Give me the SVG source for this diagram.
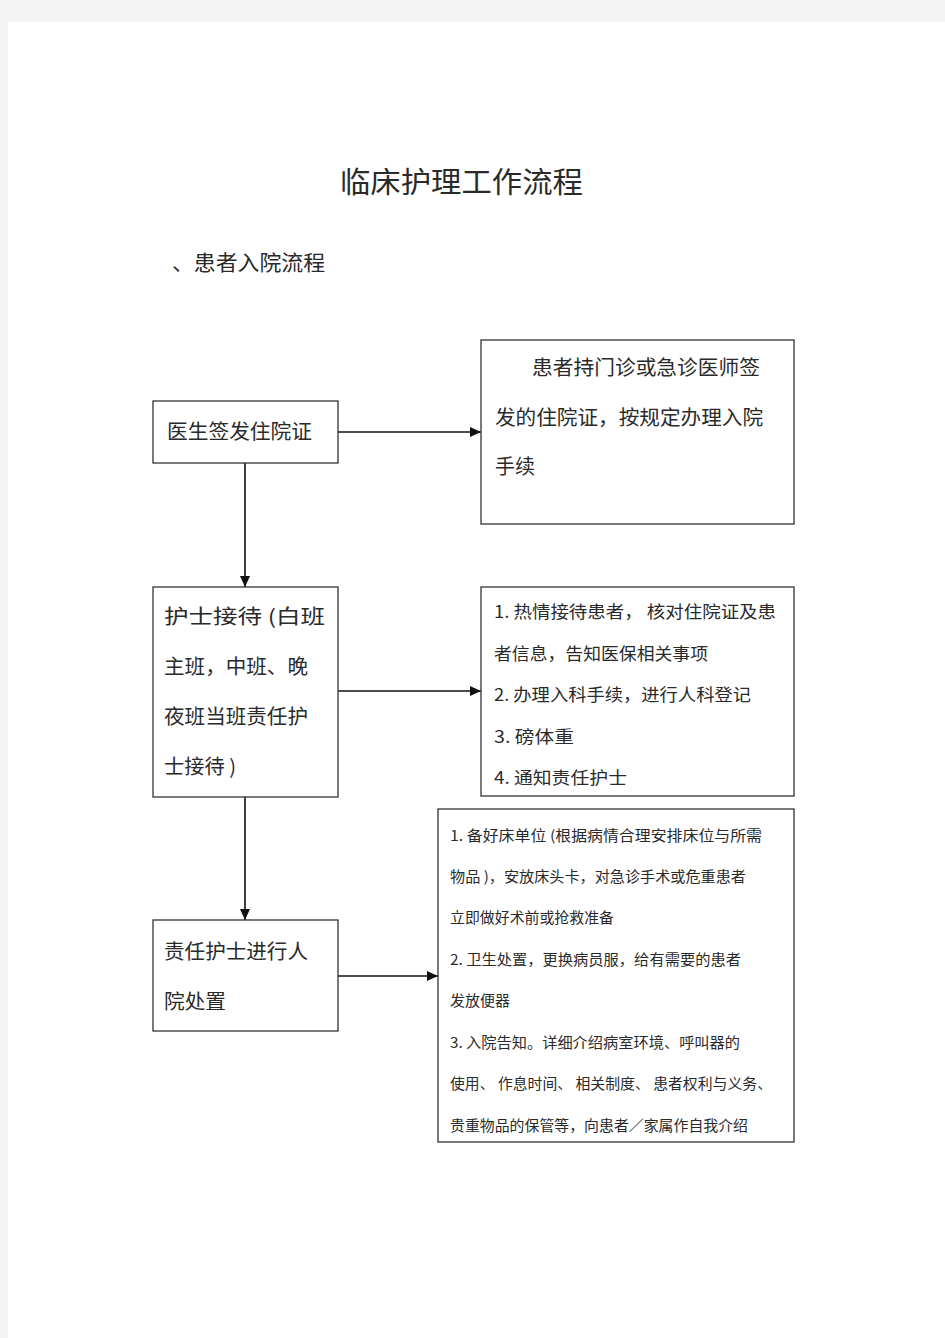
<svg xmlns="http://www.w3.org/2000/svg" width="945" height="1338" viewBox="0 0 945 1338">
<defs>
<style>
.t{font-family:"Noto Sans CJK SC","Liberation Sans",sans-serif;fill:#2a2a2a}
.b{fill:#fff;stroke:#333;stroke-width:1.3}
.c{stroke:#111;stroke-width:1.6;fill:none}
.l{font-size:20px}
.m{font-size:17px}
.s{font-size:14.5px}
</style>
<marker id="ah" markerWidth="12" markerHeight="12" refX="11" refY="6" orient="auto" markerUnits="userSpaceOnUse">
<path d="M0,1 L11,6 L0,11 Z" fill="#111"/>
</marker>
</defs>
<rect x="0" y="0" width="945" height="1338" fill="#f3f3f3"/>
<rect x="8" y="22" width="937" height="1316" fill="#fff"/>
<text class="t" x="340" y="193" font-size="29" textLength="243" lengthAdjust="spacingAndGlyphs">临床护理工作流程</text>
<text class="t" x="172" y="270" font-size="21" textLength="153" lengthAdjust="spacingAndGlyphs">、患者入院流程</text>
<g id="connectors">
<line class="c" x1="338" y1="432" x2="481" y2="432" marker-end="url(#ah)"/>
<line class="c" x1="245" y1="463" x2="245" y2="587" marker-end="url(#ah)"/>
<line class="c" x1="338" y1="691" x2="481" y2="691" marker-end="url(#ah)"/>
<line class="c" x1="245" y1="797" x2="245" y2="920" marker-end="url(#ah)"/>
<line class="c" x1="338" y1="976" x2="438" y2="976" marker-end="url(#ah)"/>
</g>
<g id="node-doctor">
<rect class="b" x="153" y="401" width="185" height="62"/>
<text class="t l" x="167" y="439" textLength="145" lengthAdjust="spacingAndGlyphs">医生签发住院证</text>
</g>
<g id="node-admit">
<rect class="b" x="481" y="340" width="313" height="184"/>
<text class="t l" x="532" y="375" textLength="228" lengthAdjust="spacingAndGlyphs">患者持门诊或急诊医师签</text>
<text class="t l" x="495" y="425" textLength="268" lengthAdjust="spacingAndGlyphs">发的住院证，按规定办理入院</text>
<text class="t l" x="495" y="474" textLength="40" lengthAdjust="spacingAndGlyphs">手续</text>
</g>
<g id="node-nurse">
<rect class="b" x="153" y="587" width="185" height="210"/>
<text class="t l" x="164" y="624" textLength="161" lengthAdjust="spacingAndGlyphs">护士接待 (白班</text>
<text class="t l" x="164" y="674" textLength="144" lengthAdjust="spacingAndGlyphs">主班，中班、晚</text>
<text class="t l" x="164" y="724" textLength="144" lengthAdjust="spacingAndGlyphs">夜班当班责任护</text>
<text class="t l" x="164" y="774" textLength="72" lengthAdjust="spacingAndGlyphs">士接待 )</text>
</g>
<g id="node-reception">
<rect class="b" x="481" y="587" width="313" height="209"/>
<text class="t m" x="494" y="618" textLength="282" lengthAdjust="spacingAndGlyphs">1. 热情接待患者， 核对住院证及患</text>
<text class="t m" x="494" y="660" textLength="214" lengthAdjust="spacingAndGlyphs">者信息，告知医保相关事项</text>
<text class="t m" x="494" y="701" textLength="257" lengthAdjust="spacingAndGlyphs">2. 办理入科手续，进行人科登记</text>
<text class="t m" x="494" y="743" textLength="80" lengthAdjust="spacingAndGlyphs">3. 磅体重</text>
<text class="t m" x="494" y="784" textLength="133" lengthAdjust="spacingAndGlyphs">4. 通知责任护士</text>
</g>
<g id="node-duty">
<rect class="b" x="153" y="920" width="185" height="111"/>
<text class="t l" x="164" y="959" textLength="144" lengthAdjust="spacingAndGlyphs">责任护士进行人</text>
<text class="t l" x="164" y="1009" textLength="62" lengthAdjust="spacingAndGlyphs">院处置</text>
</g>
<g id="node-handling">
<rect class="b" x="438" y="809" width="356" height="333"/>
<text class="t s" x="450" y="841" textLength="312" lengthAdjust="spacingAndGlyphs">1. 备好床单位  (根据病情合理安排床位与所需</text>
<text class="t s" x="450" y="882" textLength="296" lengthAdjust="spacingAndGlyphs">物品 )，安放床头卡，对急诊手术或危重患者</text>
<text class="t s" x="450" y="923" textLength="164" lengthAdjust="spacingAndGlyphs">立即做好术前或抢救准备</text>
<text class="t s" x="450" y="965" textLength="291" lengthAdjust="spacingAndGlyphs">2. 卫生处置，更换病员服，给有需要的患者</text>
<text class="t s" x="450" y="1006" textLength="60" lengthAdjust="spacingAndGlyphs">发放便器</text>
<text class="t s" x="450" y="1048" textLength="290" lengthAdjust="spacingAndGlyphs">3. 入院告知。详细介绍病室环境、呼叫器的</text>
<text class="t s" x="450" y="1089" textLength="322" lengthAdjust="spacingAndGlyphs">使用、 作息时间、 相关制度、 患者权利与义务、</text>
<text class="t s" x="450" y="1131" textLength="298" lengthAdjust="spacingAndGlyphs">贵重物品的保管等，向患者／家属作自我介绍</text>
</g>
</svg>
